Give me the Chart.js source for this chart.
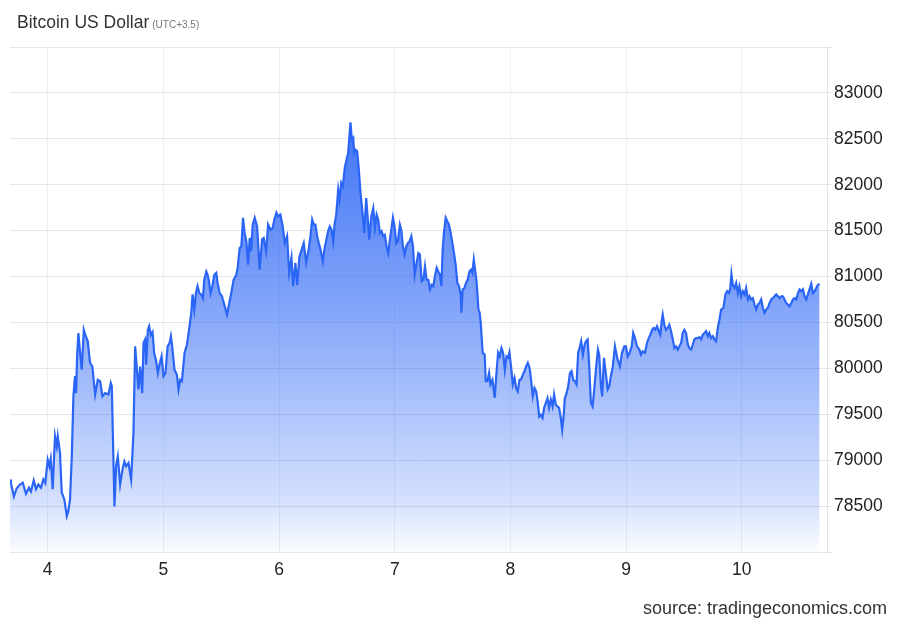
<!DOCTYPE html>
<html>
<head>
<meta charset="utf-8">
<script src="https://cdn.jsdelivr.net/npm/chart.js@4.4.1/dist/chart.umd.min.js"></script>
<style>
  html, body { margin: 0; padding: 0; background: #fff; }
  #wrap { position: relative; width: 900px; height: 624px; font-family: "Liberation Sans", Arial, sans-serif; }
  #title { position: absolute; left: 17px; top: 14px; font-size: 17.5px; line-height: 17.5px; color: #333; white-space: nowrap; }
  #title span { font-size: 10px; color: #777; margin-left: 3px; }
  #source { position: absolute; right: 13px; top: 599px; font-size: 18px; line-height: 18px; color: #333; white-space: nowrap; }
  canvas { position: absolute; left: 0; top: 0; }
</style>
</head>
<body>
<div id="wrap">
  <canvas id="chart" width="900" height="624"></canvas>
  <div id="title">Bitcoin US Dollar<span>(UTC+3.5)</span></div>
  <div id="source">source: tradingeconomics.com</div>
</div>
<script>
// time in days of the month
const times = [
  3.674, 3.682, 3.708, 3.732, 3.760, 3.784, 3.812, 3.838, 3.855, 3.879,
  3.899, 3.919, 3.942, 3.962, 3.979, 4.000, 4.014, 4.026, 4.043, 4.063,
  4.078, 4.087, 4.106, 4.121, 4.144, 4.165, 4.178, 4.193, 4.208, 4.222,
  4.236, 4.245, 4.254, 4.265, 4.280, 4.294, 4.312, 4.329, 4.346, 4.366,
  4.386, 4.410, 4.433, 4.453, 4.473, 4.496, 4.525, 4.545, 4.554, 4.568,
  4.577, 4.591, 4.606, 4.626, 4.646, 4.663, 4.678, 4.698, 4.721, 4.741,
  4.756, 4.784, 4.799, 4.817, 4.828, 4.842, 4.851, 4.866, 4.877, 4.892,
  4.906, 4.920, 4.938, 4.952, 4.966, 4.984, 5.001, 5.018, 5.036, 5.053,
  5.065, 5.076, 5.096, 5.117, 5.131, 5.145, 5.160, 5.183, 5.204, 5.226,
  5.241, 5.252, 5.267, 5.281, 5.295, 5.310, 5.327, 5.342, 5.353, 5.371,
  5.382, 5.394, 5.408, 5.423, 5.440, 5.457, 5.468, 5.486, 5.506, 5.526,
  5.550, 5.567, 5.584, 5.607, 5.630, 5.642, 5.659, 5.674, 5.688, 5.702,
  5.717, 5.732, 5.746, 5.758, 5.772, 5.789, 5.810, 5.832, 5.853, 5.867,
  5.888, 5.905, 5.925, 5.945, 5.959, 5.977, 5.991, 6.011, 6.031, 6.049,
  6.069, 6.087, 6.107, 6.121, 6.141, 6.156, 6.176, 6.213, 6.234, 6.256,
  6.271, 6.286, 6.300, 6.314, 6.329, 6.343, 6.358, 6.378, 6.392, 6.409,
  6.424, 6.438, 6.453, 6.468, 6.479, 6.494, 6.511, 6.522, 6.537, 6.551,
  6.568, 6.583, 6.597, 6.609, 6.617, 6.629, 6.641, 6.649, 6.661, 6.675,
  6.689, 6.704, 6.724, 6.736, 6.753, 6.767, 6.779, 6.797, 6.814, 6.828,
  6.843, 6.857, 6.871, 6.886, 6.900, 6.914, 6.929, 6.944, 6.958, 6.970,
  6.984, 6.998, 7.013, 7.027, 7.044, 7.056, 7.070, 7.085, 7.100, 7.113,
  7.128, 7.143, 7.157, 7.172, 7.189, 7.204, 7.217, 7.232, 7.247, 7.261,
  7.275, 7.290, 7.304, 7.319, 7.333, 7.347, 7.362, 7.376, 7.390, 7.403,
  7.414, 7.425, 7.440, 7.455, 7.468, 7.483, 7.498, 7.512, 7.526, 7.541,
  7.555, 7.570, 7.576, 7.587, 7.602, 7.616, 7.630, 7.645, 7.659, 7.671,
  7.683, 7.694, 7.708, 7.723, 7.734, 7.743, 7.752, 7.760, 7.777, 7.786,
  7.801, 7.815, 7.827, 7.844, 7.864, 7.879, 7.893, 7.907, 7.922, 7.936,
  7.951, 7.965, 7.979, 7.991, 8.005, 8.020, 8.035, 8.049, 8.063, 8.078,
  8.092, 8.107, 8.121, 8.135, 8.150, 8.165, 8.178, 8.193, 8.208, 8.222,
  8.236, 8.248, 8.262, 8.277, 8.291, 8.306, 8.320, 8.334, 8.349, 8.364,
  8.377, 8.392, 8.407, 8.420, 8.435, 8.447, 8.459, 8.470, 8.485, 8.499,
  8.514, 8.528, 8.542, 8.557, 8.571, 8.585, 8.597, 8.611, 8.626, 8.641,
  8.652, 8.667, 8.681, 8.695, 8.710, 8.724, 8.741, 8.756, 8.767, 8.782,
  8.793, 8.808, 8.822, 8.840, 8.854, 8.868, 8.883, 8.903, 8.926, 8.946,
  8.964, 8.984, 8.998, 9.013, 9.030, 9.048, 9.061, 9.076, 9.094, 9.114,
  9.128, 9.143, 9.163, 9.180, 9.195, 9.209, 9.224, 9.238, 9.252, 9.267,
  9.282, 9.295, 9.307, 9.316, 9.330, 9.345, 9.359, 9.373, 9.388, 9.403,
  9.417, 9.431, 9.446, 9.460, 9.475, 9.489, 9.503, 9.518, 9.533, 9.546,
  9.561, 9.576, 9.590, 9.604, 9.619, 9.633, 9.648, 9.662, 9.676, 9.691,
  9.706, 9.719, 9.734, 9.749, 9.763, 9.777, 9.792, 9.806, 9.821, 9.841,
  9.858, 9.873, 9.887, 9.899, 9.910, 9.922, 9.936, 9.951, 9.965, 9.979,
  9.994, 10.009, 10.023, 10.037, 10.052, 10.066, 10.080, 10.095, 10.109, 10.124,
  10.138, 10.152, 10.167, 10.182, 10.196, 10.210, 10.225, 10.239, 10.254, 10.268,
  10.282, 10.297, 10.312, 10.326, 10.340, 10.355, 10.369, 10.384, 10.398, 10.412,
  10.427, 10.441, 10.456, 10.470, 10.485, 10.499, 10.514, 10.528, 10.542, 10.557,
  10.571, 10.585, 10.600, 10.614, 10.629, 10.643, 10.658, 10.672
];

const prices = [
  78790, 78750, 78605, 78695, 78735, 78755, 78635, 78700, 78660, 78780,
  78685, 78735, 78700, 78790, 78750, 79005, 78935, 79015, 78685, 79260,
  79150, 79260, 79080, 78650, 78570, 78390, 78445, 78570, 79040, 79695,
  79915, 79730, 80130, 80385, 80170, 79985, 80420, 80350, 80295, 80060,
  80020, 79715, 79875, 79860, 79695, 79730, 79715, 79840, 79805, 79005,
  78495, 78935, 79040, 78735, 78895, 78985, 78935, 78970, 78790, 79295,
  80240, 79770, 80020, 79730, 80275, 80315, 80040, 80420, 80460, 80365,
  80395, 80170, 80075, 79950, 80040, 80130, 79915, 79950, 80240, 80275,
  80350, 80240, 79985, 79930, 79770, 79875, 79860, 80170, 80260, 80460,
  80605, 80805, 80640, 80820, 80895, 80820, 80805, 80765, 80965, 81055,
  81020, 80950, 80820, 80895, 81020, 81040, 80930, 80820, 80785, 80695,
  80585, 80695, 80805, 80965, 81020, 81095, 81310, 81330, 81640, 81475,
  81385, 81130, 81420, 81275, 81565, 81640, 81545, 81075, 81405, 81420,
  81275, 81565, 81510, 81530, 81620, 81695, 81655, 81675, 81545, 81365,
  81440, 81040, 81205, 80895, 81150, 80910, 81220, 81365, 81150, 81295,
  81440, 81620, 81565, 81565, 81440, 81365, 81295, 81165, 81295, 81405,
  81495, 81545, 81510, 81385, 81565, 81675, 81945, 81840, 82020, 81985,
  82185, 82275, 82345, 82545, 82680, 82490, 82510, 82345, 82380, 82365,
  82165, 81910, 81655, 81475, 81855, 81620, 81405, 81655, 81745, 81530,
  81675, 81620, 81475, 81495, 81440, 81455, 81330, 81255, 81405, 81510,
  81640, 81545, 81365, 81385, 81565, 81510, 81330, 81240, 81330, 81365,
  81385, 81440, 81330, 81020, 81150, 81255, 81240, 80950, 80965, 81110,
  80965, 80965, 80860, 80910, 80895, 81005, 81095, 81055, 81020, 80895,
  81295, 81475, 81640, 81600, 81565, 81475, 81365, 81255, 81130, 80930,
  80895, 80805, 80605, 80860, 80875, 80930, 80965, 81055, 81075, 81040,
  81185, 81075, 80930, 80640, 80605, 80495, 80315, 80170, 80150, 79860,
  79860, 79950, 79825, 79875, 79680, 79950, 80170, 80130, 80220, 80170,
  79985, 80130, 80115, 80175, 80020, 79825, 79895, 79785, 79750, 79875,
  79880, 79930, 79970, 80020, 80060, 80005, 79875, 79695, 79785, 79750,
  79625, 79475, 79495, 79460, 79570, 79625, 79675, 79570, 79660, 79585,
  79715, 79605, 79585, 79570, 79460, 79330, 79475, 79675, 79730, 79805,
  79950, 79970, 79875, 79860, 79825, 80170, 80220, 80295, 80150, 80260,
  80295, 80315, 80020, 79625, 79585, 79770, 80020, 80205, 80150, 79805,
  79695, 80115, 79970, 79770, 79805, 79915, 80005, 80240, 80095, 80020,
  80170, 80240, 80240, 80130, 80170, 80240, 80385, 80330, 80240, 80205,
  80150, 80185, 80170, 80275, 80330, 80365, 80420, 80440, 80420, 80460,
  80405, 80365, 80515, 80585, 80475, 80420, 80440, 80475, 80405, 80315,
  80220, 80240, 80205, 80240, 80275, 80385, 80420, 80385, 80260, 80220,
  80205, 80260, 80315, 80330, 80330, 80340, 80315, 80365, 80385, 80405,
  80350, 80385, 80330, 80350, 80315, 80295, 80440, 80530, 80640, 80660,
  80805, 80840, 80820, 80860, 81030, 80910, 80875, 80930, 80820, 80895,
  80785, 80840, 80805, 80875, 80750, 80785, 80750, 80765, 80695, 80640,
  80695, 80710, 80750, 80660, 80605, 80640, 80660, 80710, 80750, 80765,
  80785, 80805, 80785, 80765, 80785, 80785, 80750, 80710, 80695, 80675,
  80710, 80750, 80765, 80750, 80820, 80860, 80840, 80860, 80785, 80750,
  80805, 80860, 80920, 80820, 80840, 80875, 80910, 80920
];

const dayLabels = [4, 5, 6, 7, 8, 9, 10];
const priceLabels = [78500, 79000, 79500, 80000, 80500, 81000, 81500, 82000, 82500, 83000];

const tickFont = { family: '"Liberation Sans", Arial, sans-serif', size: 17.5 };

const ctx = document.getElementById('chart').getContext('2d');

new Chart(ctx, {
  type: 'line',
  data: {
    datasets: [{
      label: 'Bitcoin US Dollar',
      data: times.map((t, i) => ({ x: t, y: prices[i] })),
      borderColor: '#2b65f5',
      borderWidth: 2.2,
      pointRadius: 0,
      tension: 0,
      fill: 'start',
      backgroundColor: (c) => {
        const area = c.chart.chartArea;
        if (!area) return 'rgba(43,101,245,0.4)';
        const g = c.chart.ctx.createLinearGradient(0, area.top, 0, area.bottom);
        g.addColorStop(0, 'rgba(43,101,245,0.95)');
        g.addColorStop(0.2, 'rgba(43,101,245,0.85)');
        g.addColorStop(0.5, 'rgba(43,101,245,0.6)');
        g.addColorStop(0.9, 'rgba(43,101,245,0.2)');
        g.addColorStop(1, 'rgba(43,101,245,0.02)');
        return g;
      }
    }]
  },
  options: {
    responsive: false,
    animation: false,
    layout: { padding: { top: 47, left: 10, right: 0, bottom: 0 } },
    plugins: {
      legend: { display: false },
      tooltip: { enabled: false }
    },
    scales: {
      x: {
        type: 'linear',
        min: 3.674,
        max: 10.736,
        afterBuildTicks: (s) => { s.ticks = dayLabels.map(v => ({ value: v })); },
        afterFit: (s) => { s.height = 72; },
        ticks: {
          padding: 8,
          maxRotation: 0,
          autoSkip: false,
          color: '#222',
          font: tickFont,
          callback: (v) => String(v)
        },
        grid: { color: '#edf0f4', drawTicks: false },
        border: { display: false }
      },
      y: {
        position: 'right',
        min: 78000,
        max: 83500,
        afterFit: (s) => { s.width = 73; },
        ticks: {
          stepSize: 500,
          padding: 2,
          color: '#222',
          font: tickFont,
          callback: (v) => priceLabels.includes(v) ? String(v) : ''
        },
        grid: { color: '#e6e6e6', tickLength: 5 },
        border: { color: '#e3e3e3' }
      }
    }
  }
});
</script>
</body>
</html>
